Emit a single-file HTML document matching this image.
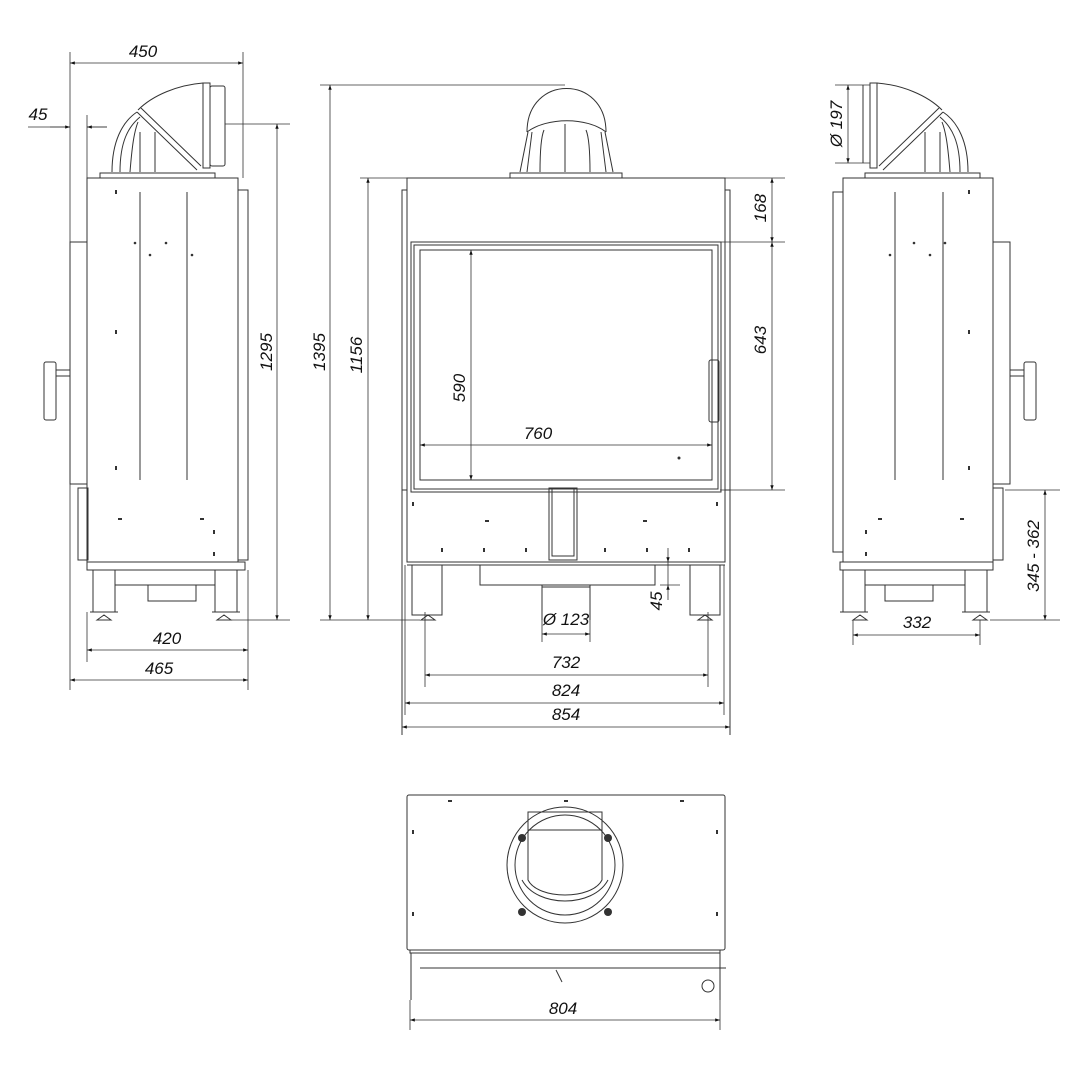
<!DOCTYPE html>
<html><head><meta charset="utf-8"><style>
html,body{margin:0;padding:0;background:#fff}
svg{display:block}
text{font-family:"Liberation Sans",sans-serif;font-style:italic;font-size:17px;fill:#111}
</style></head><body>
<svg width="1080" height="1080" viewBox="0 0 1080 1080" xmlns="http://www.w3.org/2000/svg">
<defs>
<marker id="a" viewBox="0 0 10 10" refX="10" refY="5" markerWidth="9" markerHeight="6" orient="auto-start-reverse"><path d="M0,1.5L10,5L0,8.5z" fill="#111"/></marker>
</defs>
<g fill="none" stroke="#333" stroke-width="1">
<rect x="87" y="178" width="151" height="384"/>
<path d="M238,190h10v370h-10"/>
<path d="M87,242h-17v242h17"/>
<rect x="78" y="488" width="10" height="72"/>
<rect x="44" y="362" width="12" height="58" rx="2"/>
<path d="M56,370h14M56,376h14"/>
<path d="M87,562h158v8h-158z"/>
<rect x="93" y="570" width="22" height="42"/><rect x="215" y="570" width="22" height="42"/>
<path d="M90,612h28M212,612h28"/>
<path d="M97,620l7,-5l7,5zM217,620l7,-5l7,5z"/>
<path d="M115,570v15h100v-15"/>
<rect x="148" y="585" width="48" height="16"/>
<line x1="140" y1="192" x2="140" y2="480"/><line x1="187" y1="192" x2="187" y2="480"/>
<path d="M100,178v-5h115v5"/>
<path d="M112,172c0,-30 10,-50 25,-60M120,172c0,-30 8,-45 20,-55M130,172c2,-25 4,-40 8,-50M140,172v-40M155,172v-40"/>
<path d="M137,112l60,58M141,108l60,58"/>
<path d="M138,110c15,-15 40,-25 65,-27"/>
<rect x="203" y="83" width="7" height="85"/>
<rect x="210" y="86" width="15" height="80" rx="2"/>
<rect x="407" y="178" width="318" height="384"/>
<path d="M407,190h-5v300h5M725,190h5v300h-5"/>
<rect x="411" y="242" width="310" height="250"/>
<rect x="414" y="245" width="304" height="244"/>
<rect x="420" y="250" width="292" height="230"/>
<rect x="709" y="360" width="10" height="62" rx="2"/>
<path d="M402,490v245M730,490v245"/>
<rect x="549" y="488" width="28" height="72"/>
<rect x="552" y="488" width="22" height="68"/>
<path d="M407,562h318M407,565h318"/>
<path d="M412,565v50h30v-50M690,565v50h30v-50"/>
<path d="M480,565v20h175v-20"/>
<path d="M542,585v35M590,585v35M542,587h48"/>
<path d="M421,620l7,-5l7,5zM698,620l7,-5l7,5z"/>
<path d="M510,178v-5h112v5"/>
<path d="M527,132c0,-58 79,-58 79,0"/>
<path d="M527,132c20,-15 60,-15 79,0"/>
<path d="M520,172l8,-40M527,172l5,-40M540,172c0,-20 1,-35 4,-42M565,172v-48M590,172c0,-20 -1,-35 -4,-42M606,172l-5,-40M613,172l-8,-40"/>
<rect x="843" y="178" width="150" height="384"/>
<path d="M843,192h-10v360h10"/>
<path d="M993,242h17v242h-17"/>
<rect x="993" y="488" width="10" height="72"/>
<rect x="1024" y="362" width="12" height="58" rx="2"/>
<path d="M1010,370h14M1010,376h14"/>
<path d="M840,562h153v8h-153z"/>
<rect x="843" y="570" width="22" height="42"/><rect x="965" y="570" width="22" height="42"/>
<path d="M840,612h28M962,612h28"/>
<path d="M853,620l7,-5l7,5zM973,620l7,-5l7,5z"/>
<path d="M865,570v15h100v-15"/>
<rect x="885" y="585" width="48" height="16"/>
<line x1="895" y1="192" x2="895" y2="480"/><line x1="943" y1="192" x2="943" y2="480"/>
<path d="M865,178v-5h115v5"/>
<path d="M968,172c0,-30 -10,-50 -25,-60M960,172c0,-30 -8,-45 -20,-55M950,172c-2,-25 -4,-40 -8,-50M940,172v-40M925,172v-40"/>
<path d="M943,112l-60,58M939,108l-60,58"/>
<path d="M942,110c-15,-15 -40,-25 -65,-27"/>
<rect x="870" y="83" width="7" height="85"/>
<line x1="863" y1="85" x2="863" y2="163"/>
<rect x="407" y="795" width="318" height="155" rx="2"/>
<path d="M410,950h310v3h-310z"/>
<path d="M411,953v47M720,953v47M420,968h306"/>
<circle cx="565" cy="865" r="58"/><circle cx="565" cy="865" r="50"/>
<path d="M528,812h74v18h-74zM528,830h74"/>
<path d="M528,830v50c10,20 64,20 74,0v-50"/>
<path d="M522,880c15,28 71,28 86,0"/>
<circle cx="708" cy="986" r="6"/>
<path d="M556,970l6,12"/>
</g>
<g fill="#333">
<circle cx="522" cy="838" r="4"/><circle cx="608" cy="838" r="4"/><circle cx="522" cy="912" r="4"/><circle cx="608" cy="912" r="4"/>
<rect x="115" y="190" width="2" height="4"/><rect x="115" y="330" width="2" height="4"/><rect x="115" y="466" width="2" height="4"/>
<circle cx="135" cy="243" r="1.3"/><circle cx="150" cy="255" r="1.3"/><circle cx="166" cy="243" r="1.3"/><circle cx="192" cy="255" r="1.3"/>
<rect x="118" y="518" width="4" height="2"/><rect x="200" y="518" width="4" height="2"/><rect x="213" y="530" width="2" height="4"/><rect x="213" y="552" width="2" height="4"/>
<rect x="968" y="190" width="2" height="4"/><rect x="968" y="330" width="2" height="4"/><rect x="968" y="466" width="2" height="4"/>
<circle cx="914" cy="243" r="1.3"/><circle cx="930" cy="255" r="1.3"/><circle cx="945" cy="243" r="1.3"/><circle cx="890" cy="255" r="1.3"/>
<rect x="878" y="518" width="4" height="2"/><rect x="960" y="518" width="4" height="2"/><rect x="865" y="530" width="2" height="4"/><rect x="865" y="552" width="2" height="4"/>
<rect x="412" y="502" width="2" height="4"/><rect x="716" y="502" width="2" height="4"/>
<rect x="485" y="520" width="4" height="2"/><rect x="643" y="520" width="4" height="2"/>
<rect x="441" y="548" width="2" height="4"/><rect x="483" y="548" width="2" height="4"/><rect x="525" y="548" width="2" height="4"/><rect x="604" y="548" width="2" height="4"/><rect x="646" y="548" width="2" height="4"/><rect x="688" y="548" width="2" height="4"/>
<circle cx="679" cy="458" r="1.5"/>
<rect x="448" y="800" width="4" height="2"/><rect x="564" y="800" width="4" height="2"/><rect x="680" y="800" width="4" height="2"/>
<rect x="412" y="830" width="2" height="4"/><rect x="716" y="830" width="2" height="4"/><rect x="412" y="912" width="2" height="4"/><rect x="716" y="912" width="2" height="4"/>
</g>
<g stroke="#333" stroke-width="0.8" fill="none">
<path d="M70,52v638M243,52v126"/>
<line x1="70" y1="63" x2="243" y2="63" marker-start="url(#a)" marker-end="url(#a)"/>
<path d="M87,115v63"/>
<path d="M28,127h42M87,127h20"/>
<line x1="50" y1="127" x2="70" y2="127" marker-end="url(#a)"/>
<line x1="107" y1="127" x2="87" y2="127" marker-end="url(#a)"/>
<path d="M225,124h65M230,620h60"/>
<line x1="277" y1="124" x2="277" y2="620" marker-start="url(#a)" marker-end="url(#a)"/>
<path d="M87,612v50M248,570v120"/>
<line x1="87" y1="650" x2="248" y2="650" marker-start="url(#a)" marker-end="url(#a)"/>
<line x1="70" y1="680" x2="248" y2="680" marker-start="url(#a)" marker-end="url(#a)"/>
<path d="M320,85h245M320,620h100M360,178h47"/>
<line x1="330" y1="85" x2="330" y2="620" marker-start="url(#a)" marker-end="url(#a)"/>
<line x1="368" y1="178" x2="368" y2="620" marker-start="url(#a)" marker-end="url(#a)"/>
<path d="M725,178h60M720,242h65M720,490h65"/>
<line x1="772" y1="178" x2="772" y2="242" marker-start="url(#a)" marker-end="url(#a)"/>
<line x1="772" y1="242" x2="772" y2="490" marker-start="url(#a)" marker-end="url(#a)"/>
<line x1="471" y1="250" x2="471" y2="480" marker-start="url(#a)" marker-end="url(#a)"/>
<line x1="420" y1="445" x2="712" y2="445" marker-start="url(#a)" marker-end="url(#a)"/>
<path d="M425,612v75M708,612v75M405,565v150M724,565v150"/>
<line x1="425" y1="675" x2="708" y2="675" marker-start="url(#a)" marker-end="url(#a)"/>
<line x1="405" y1="703" x2="724" y2="703" marker-start="url(#a)" marker-end="url(#a)"/>
<line x1="402" y1="727" x2="730" y2="727" marker-start="url(#a)" marker-end="url(#a)"/>
<path d="M542,620v22M590,620v22"/>
<line x1="542" y1="634" x2="590" y2="634" marker-start="url(#a)" marker-end="url(#a)"/>
<path d="M660,585h20"/>
<line x1="668" y1="548" x2="668" y2="562" marker-end="url(#a)"/>
<line x1="668" y1="600" x2="668" y2="585" marker-end="url(#a)"/>
<path d="M668,562v23"/>
<path d="M835,85h35M835,163h35"/>
<line x1="848" y1="85" x2="848" y2="163" marker-start="url(#a)" marker-end="url(#a)"/>
<path d="M1005,490h55M990,620h70"/>
<line x1="1045" y1="490" x2="1045" y2="620" marker-start="url(#a)" marker-end="url(#a)"/>
<path d="M853,620v25M980,620v25"/>
<line x1="853" y1="635" x2="980" y2="635" marker-start="url(#a)" marker-end="url(#a)"/>
<path d="M410,1000v30M720,1000v30"/>
<line x1="410" y1="1020" x2="720" y2="1020" marker-start="url(#a)" marker-end="url(#a)"/>
</g>
<g>
<text x="143" y="57" text-anchor="middle">450</text>
<text x="38" y="120" text-anchor="middle">45</text>
<text x="272" y="352" text-anchor="middle" transform="rotate(-90 272 352)">1295</text>
<text x="167" y="644" text-anchor="middle">420</text>
<text x="159" y="674" text-anchor="middle">465</text>
<text x="325" y="352" text-anchor="middle" transform="rotate(-90 325 352)">1395</text>
<text x="362" y="355" text-anchor="middle" transform="rotate(-90 362 355)">1156</text>
<text x="766" y="208" text-anchor="middle" transform="rotate(-90 766 208)">168</text>
<text x="766" y="340" text-anchor="middle" transform="rotate(-90 766 340)">643</text>
<text x="465" y="388" text-anchor="middle" transform="rotate(-90 465 388)">590</text>
<text x="538" y="439" text-anchor="middle">760</text>
<text x="566" y="625" text-anchor="middle">Ø 123</text>
<text x="662" y="601" text-anchor="middle" transform="rotate(-90 662 601)">45</text>
<text x="566" y="668" text-anchor="middle">732</text>
<text x="566" y="696" text-anchor="middle">824</text>
<text x="566" y="720" text-anchor="middle">854</text>
<text x="842" y="124" text-anchor="middle" transform="rotate(-90 842 124)">Ø 197</text>
<text x="1039" y="556" text-anchor="middle" transform="rotate(-90 1039 556)">345 - 362</text>
<text x="917" y="628" text-anchor="middle">332</text>
<text x="563" y="1014" text-anchor="middle">804</text>
</g>
</svg>
</body></html>
